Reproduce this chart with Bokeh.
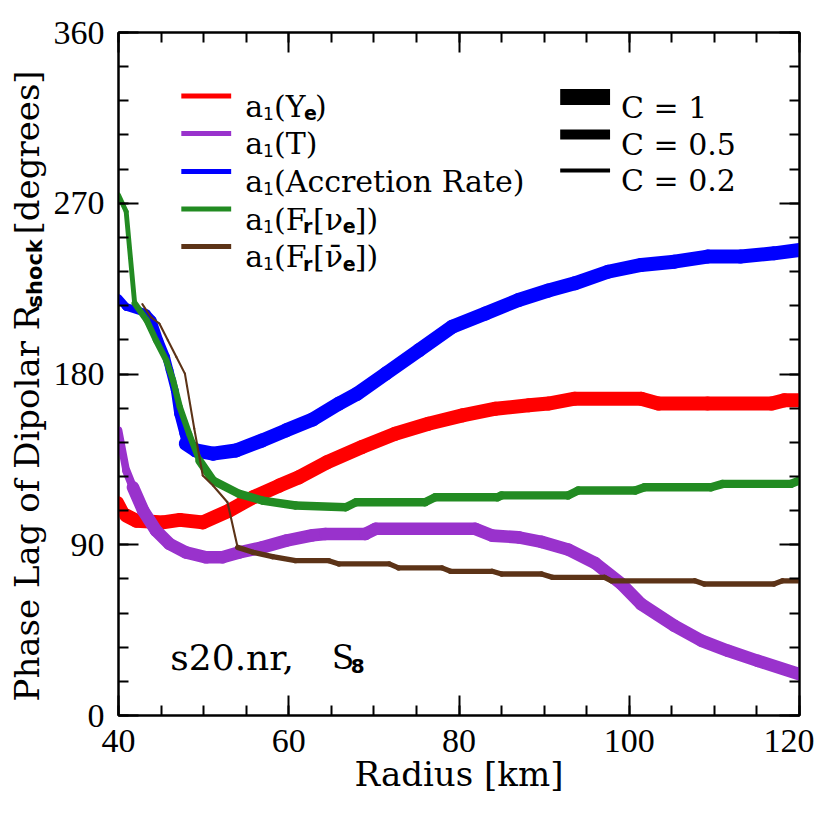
import numpy as np
from math import pi
from bokeh.plotting import figure
from bokeh.layouts import row
from bokeh.models import (Range1d, FixedTicker, LinearAxis, Label, BoxAnnotation,
                          ColumnDataSource)
from bokeh.core.properties import value
from bokeh.embed import file_html
from bokeh.resources import INLINE

# ---------------- data (radius in km, phase lag in degrees, C = coherence) -------------
r_ye = [40, 40.9, 42.1, 45.2, 47.2, 49.9, 53, 55.8, 58.9, 61.2, 64.5, 68.6, 72.5, 76.4,
        80.4, 84.3, 88.2, 90.5, 93.6, 101.4, 103.4, 109.2, 116.7, 118.2, 120]
phi_ye = [113, 105.4, 102.7, 101.8, 103.1, 101.8, 108, 115, 121.2, 125.6, 133.5, 141.5,
          148.5, 153.8, 158.2, 161.7, 163.5, 164.4, 167, 167, 164.4, 164.4, 164.4, 166.1, 166.1]
c_ye = [0.7] + [1.0] * 24

r_t = [40, 40.9, 41.7, 42.9, 44.4, 46, 47.9, 50.3, 52.2, 54.2, 56.9, 59.7, 62.8, 64.3, 69,
       70.2, 81.9, 83.9, 87, 89.7, 92.8, 96, 99.1, 101.4, 105.3, 108.5, 111.6, 115.1, 120]
phi_t = [150.3, 129.2, 120.3, 108, 97.5, 90.4, 86, 83.4, 83.4, 86, 88.6, 92.2, 95, 95.7, 95.7,
         98.4, 98.4, 94.8, 93.9, 91.5, 87.5, 80.3, 69.3, 58.7, 47.3, 39.4, 34.1, 28.8, 21.8]
c_t = [0.55, 0.6] + [0.9] * 27

r_acc = [40, 40.9, 43.3, 44, 44.8, 45.6, 46, 46.6, 47, 47.6, 47.9, 49.1, 51.1, 53.8, 56.9,
         59.7, 62.8, 65.9, 68, 71.4, 75.3, 79.2, 83.1, 87, 90.5, 93.6, 97.5, 101.4, 105.3,
         109.2, 113.1, 117, 120]
phi_acc = [220, 215.4, 212, 208.5, 197.8, 189, 182, 171.4, 159, 148.7, 143.3, 139.7, 138,
           139.7, 145, 150.3, 156, 164.4, 169.5, 180.2, 192.5, 204.9, 211.9, 219, 224, 227.8,
           233.9, 237.5, 239.2, 241.9, 241.9, 243.6, 245.4]
c_acc = [0.55] * 10 + [1.0] * 23

r_fnue = [40, 40.9, 41.9, 43.3, 44.4, 45.6, 46.4, 47.2, 48.3, 49.5, 51.1, 54.2, 56.9, 60.8,
          66.7, 67.9, 76, 77.2, 84.5, 85, 92.8, 94, 100.7, 101.8, 109.6, 111, 119, 120]
phi_fnue = [274.4, 265.6, 217.2, 208.4, 197.8, 187.3, 176.8, 162.6, 148.5, 134.4, 123.9, 116.8,
            113.3, 110.7, 109.8, 112.4, 112.4, 115, 115, 116, 116, 118.6, 118.6, 120.3, 120.3,
            122.1, 122.1, 123.9]
c_fnue = [0.35, 0.35] + [0.45] * 7 + [0.6] * 19

r_fanue = [42.8, 43.8, 44.8, 45.8, 46.8, 47.8, 48.9, 49.9, 51.1, 52.8, 54, 55.8, 58.1, 60.8,
           64.7, 65.9, 71.8, 72.9, 78, 79, 83.9, 85, 89.7, 91, 97.1, 97.9, 107.7, 108.8, 117,
           118, 120]
phi_fanue = [216.8, 210, 206.6, 197.8, 189, 180.2, 151.2, 126.5, 121.2, 112.4, 88.6, 86, 83.7,
             81.6, 81.6, 79.9, 79.9, 77.8, 77.8, 76, 76, 74.6, 74.6, 72.8, 72.8, 71, 71, 69.3,
             69.3, 71, 71]
c_fanue = [0.15] * 10 + [0.38] * 21

x_ticks = [40, 60, 80, 100, 120]
x_minor = list(range(40, 121, 5))
y_ticks = [0, 90, 180, 270, 360]
y_minor = list(range(0, 361, 18))
c_legend = [1.0, 0.5, 0.2]

series = [
    (r_ye, phi_ye, c_ye, "#ff0000"),
    (r_t, phi_t, c_t, "#9932cc"),
    (r_acc, phi_acc, c_acc, "#0000ff"),
    (r_fnue, phi_fnue, c_fnue, "#228b22"),
    (r_fanue, phi_fanue, c_fanue, "#5c3317"),
]

# ---------------- layout ---------------------------------------------------------------
TOT = 814
LF = 50                       # width of the strip that holds the y-axis title
W, H = TOT - LF, TOT
FRAME_L, FRAME_T = 116, 32    # frame position on the page
FW = FH = 683
ML = FRAME_L - LF
MT = FRAME_T
MR = W - ML - FW
MB = H - MT - FH
LW = 14.0  # px for C = 1

TICK_FONT = "Liberation Serif"
SERIF = "DejaVu Serif"
SANS = "DejaVu Sans"

p = figure(width=W, height=H, x_range=Range1d(40, 120), y_range=Range1d(0, 360),
           output_backend="svg", toolbar_location=None,
           min_border_left=ML, min_border_right=MR, min_border_top=MT, min_border_bottom=MB)
p.xgrid.visible = False
p.ygrid.visible = False
p.outline_line_color = "black"
p.outline_line_width = 2
p.background_fill_color = "white"
p.border_fill_color = "white"

bottom_ax = p.below[0]
left_ax = p.left[0]


def style_axis(ax, ticks, minor, labels):
    ax.ticker = FixedTicker(ticks=ticks, minor_ticks=minor)
    ax.major_tick_in = 20
    ax.major_tick_out = 0
    ax.minor_tick_in = 10
    ax.minor_tick_out = 0
    ax.axis_line_width = 2
    ax.axis_line_color = "black"
    ax.major_tick_line_width = 2
    ax.minor_tick_line_width = 2
    ax.major_tick_line_color = "black"
    ax.minor_tick_line_color = "black"
    if labels:
        ax.major_label_text_font = TICK_FONT
        ax.major_label_text_font_size = "34px"
        ax.major_label_text_color = "black"
        ax.major_label_standoff = 14
    else:
        ax.major_label_text_font_size = "1px"
        ax.major_label_text_color = None
        ax.major_label_standoff = 0


style_axis(bottom_ax, x_ticks, x_minor, True)
style_axis(left_ax, y_ticks, y_minor, True)
top_ax = LinearAxis()
right_ax = LinearAxis()
style_axis(top_ax, x_ticks, x_minor, False)
style_axis(right_ax, y_ticks, y_minor, False)
p.add_layout(top_ax, "above")
p.add_layout(right_ax, "right")

bottom_ax.axis_label = "Radius [km]"
bottom_ax.axis_label_text_font = SERIF
bottom_ax.axis_label_text_font_size = "34px"
bottom_ax.axis_label_text_font_style = "normal"
bottom_ax.axis_label_text_color = "black"
bottom_ax.axis_label_standoff = -1

# ---------------- curves ---------------------------------------------------------------
for r, v, c, col in series:
    r = np.asarray(r, float)
    v = np.asarray(v, float)
    c = np.asarray(c, float)
    src = ColumnDataSource(dict(x0=r[:-1], y0=v[:-1], x1=r[1:], y1=v[1:], w=LW * c[:-1]))
    p.segment("x0", "y0", "x1", "y1", source=src, line_color=col, line_width="w",
              line_cap="round")

# ---------------- helpers for page-pixel placement of annotations ---------------------


def gx(px):
    return 40 + (px - FRAME_L) * 80.0 / FW


def gy(py):
    return (FRAME_T + FH - py) * 360.0 / FH


def txt(px, py, s, font=SERIF, size=30, style="normal", align="left"):
    p.add_layout(Label(x=gx(px), y=gy(py), text=s, text_font=font,
                       text_font_size=f"{size}px", text_font_style=style,
                       text_color="black", text_baseline="alphabetic",
                       text_align=align))


def box(x0, x1, yc, h, col):
    p.add_layout(BoxAnnotation(left=gx(x0), right=gx(x1), top=gy(yc - h / 2),
                               bottom=gy(yc + h / 2), fill_color=col, fill_alpha=1.0,
                               line_color=None, line_alpha=0))


# ---------------- left legend ------------------------------------------------------------
rows = [95.5, 133, 171, 208.5, 246]
for (r, v, c, col), yc in zip(series, rows):
    box(179, 229, yc, 5, col)
    base = yc + 10
    txt(243, base, "a")
    txt(261, base + 7, "1", font=SANS, size=17)

b = rows[0] + 10
txt(272, b, "(Y")
txt(302, b + 7, "e", font=SANS, size=19, style="bold")
txt(313, b, ")")
txt(272, rows[1] + 10, "(T)")
txt(272, rows[2] + 10, "(Accretion Rate)")
for yc, nu in ((rows[3], "\u03bd"), (rows[4], "\u03bd\u0304")):
    b = yc + 10
    txt(272, b, "(F")
    txt(301, b + 7, "r", font=SANS, size=19, style="bold")
    txt(311, b, "[" + nu)
    txt(341, b + 7, "e", font=SANS, size=19, style="bold")
    txt(353, b, "])")

# ---------------- right legend (line width vs C) ------------------------------------------
crow = [96.5, 134, 170]
cbox = [16, 10, 4]
for cv, yc, hh in zip(c_legend, crow, cbox):
    box(559, 609, yc, hh, "black")
    txt(620, yc + 10, "C = " + (f"{cv:g}"))

# ---------------- model annotation --------------------------------------------------------
txt(168, 657, "s20.nr,", size=36)
txt(330, 657, "S", size=33)
txt(349, 665, "8", font=SANS, size=20, style="bold")

# ---------------- y-axis title strip (frame aligned with the main frame) -------------------
q = figure(width=LF, height=H, x_range=Range1d(0, LF), y_range=Range1d(0, 360),
           output_backend="svg", toolbar_location=None,
           min_border_left=0, min_border_right=0, min_border_top=MT, min_border_bottom=MB,
           x_axis_location=None, y_axis_location=None)
q.xgrid.visible = False
q.ygrid.visible = False
q.outline_line_color = None
q.background_fill_color = "white"
q.border_fill_color = "white"

bx = 26
TS = "34px"
q.text(x=[bx], y=[gy(701)], text=["Phase Lag of Dipolar R"], angle=pi / 2,
       text_font=value(SERIF), text_font_size=value(TS), text_color="black",
       text_baseline="alphabetic", text_align="left")
q.text(x=[bx + 8], y=[gy(307)], text=["shock"], angle=pi / 2,
       text_font=value(SANS), text_font_size=value("21px"), text_font_style="bold",
       text_color="black", text_baseline="alphabetic", text_align="left")
q.text(x=[bx], y=[gy(234)], text=["[degrees]"], angle=pi / 2,
       text_font=value(SERIF), text_font_size=value(TS), text_color="black",
       text_baseline="alphabetic", text_align="left")

layout = row(q, p)
open("out.html", "w").write(file_html(layout, INLINE))
